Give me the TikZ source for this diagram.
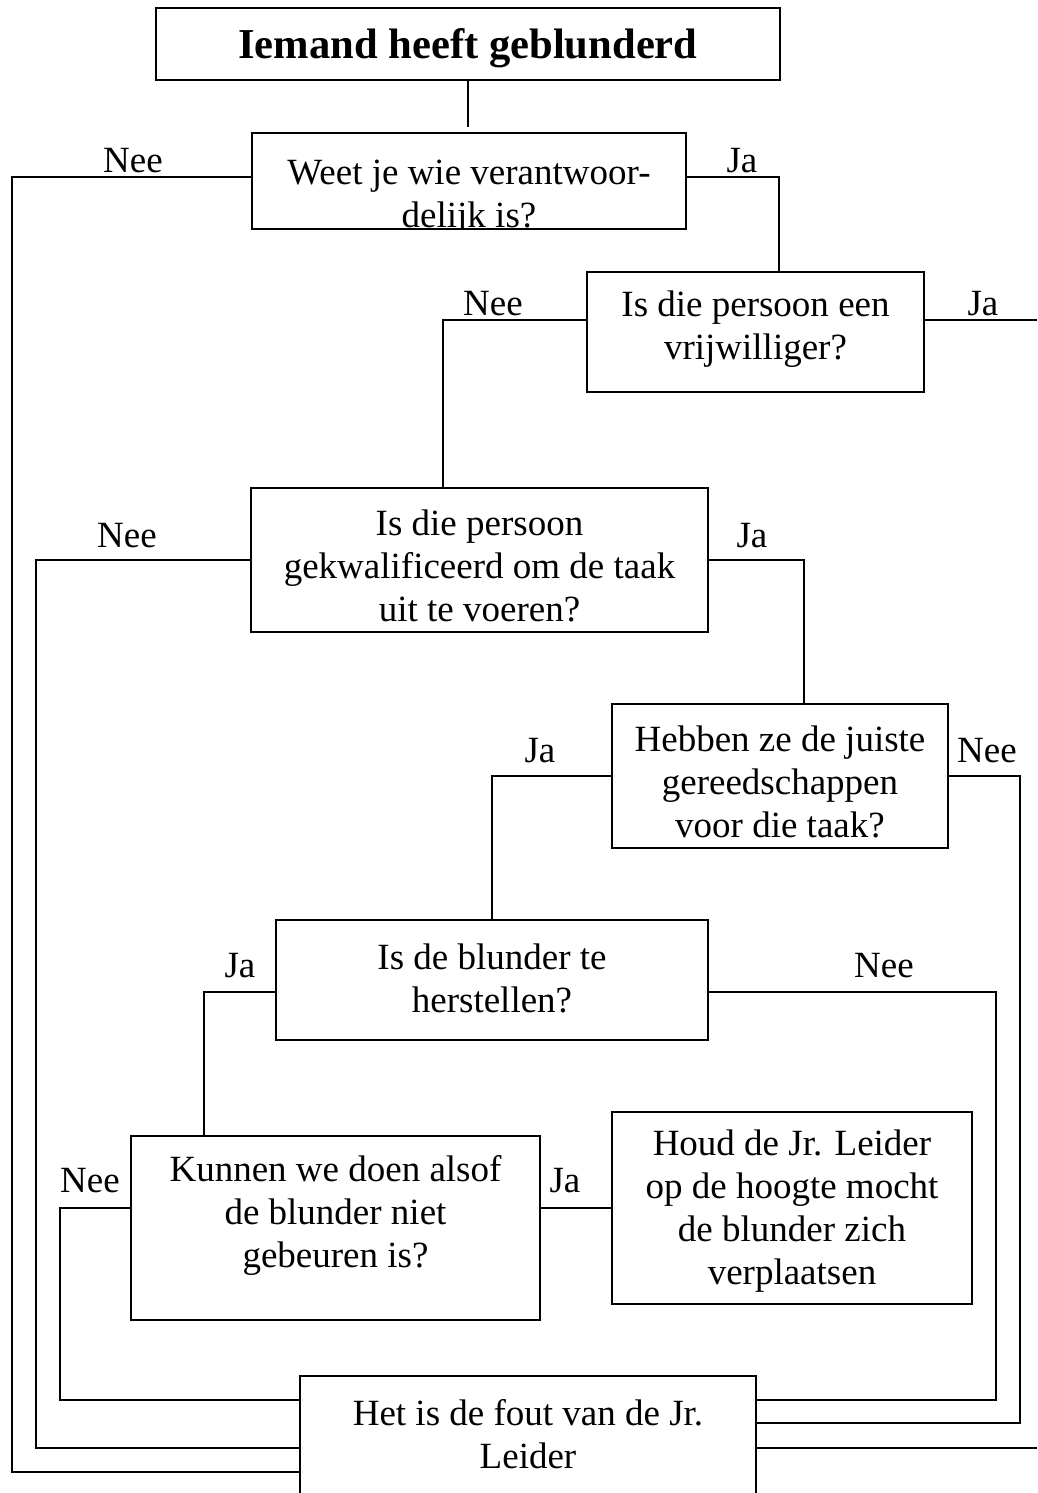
\documentclass[tikz,border=0pt]{standalone}
\usepackage{fontspec}
\setmainfont{Liberation Serif}
\begin{document}
\begin{tikzpicture}[x=1pt,y=-1pt,
  box/.style={draw,line width=1.8pt,rectangle,inner sep=0pt},
  txt/.style={align=center,inner sep=0pt,font=\fontsize{37}{43}\selectfont},
  ttl/.style={inner sep=0pt,font=\fontsize{42.6}{49}\selectfont\bfseries},
  lbl/.style={anchor=base,inner sep=0pt,font=\fontsize{37}{43}\selectfont},
  wire/.style={line width=1.8pt}]
\useasboundingbox (0,0) rectangle (1037,1493);

% decision boxes
\node[box,minimum width=624pt,minimum height=72pt]  (title)  at (468,44) {};
\node[box,minimum width=434pt,minimum height=96pt]  (weet)   at (469,181) {};
\node[box,minimum width=337pt,minimum height=120pt] (vrij)   at (755.5,332) {};
\node[box,minimum width=457pt,minimum height=144pt] (gekwal) at (479.5,560) {};
\node[box,minimum width=336pt,minimum height=144pt] (gereed) at (780,776) {};
\node[box,minimum width=432pt,minimum height=120pt] (herst)  at (492,980) {};
\node[box,minimum width=409pt,minimum height=184pt] (kunnen) at (335.5,1228) {};
\node[box,minimum width=360pt,minimum height=192pt] (houd)   at (792,1208) {};
\node[box,minimum width=456pt,minimum height=150pt] (fout)   at (528,1451) {};

% box texts (the second line of the first question runs into the frame)
\node[ttl] (titleT) at (468,48) {Iemand heeft geblunderd};
\begin{scope}
  \clip (weet.north west) rectangle (weet.south east);
  \node[txt,anchor=base] (weetT) at (469,227) {Weet je wie verantwoor-\\delijk is?};
\end{scope}
\node[txt] (vrijT)   at (755.5,329) {Is die persoon een\\vrijwilliger?};
\node[txt] (gekwalT) at (479.5,566) {Is die persoon\\gekwalificeerd om de taak\\uit te voeren?};
\node[txt] (gereedT) at (780,782) {Hebben ze de juiste\\gereedschappen\\voor die taak?};
\node[txt] (herstT)  at (492,978) {Is de blunder te\\herstellen?};
\node[txt] (kunnenT) at (335.5,1215) {Kunnen we doen alsof\\de blunder niet\\gebeuren is?};
\node[txt] (houdT)   at (792,1211) {Houd de Jr. Leider\\op de hoogte mocht\\de blunder zich\\verplaatsen};
\node[txt] (foutT)   at (528,1434) {Het is de fout van de Jr.\\Leider};

% loose ends at the right margin
\coordinate (vrijOut) at (1037,320);
\coordinate (foutOut) at (1037,1448);

% connectors
\draw[wire,shorten >=5pt] (title) -- (title.south |- weet.north);
\draw[wire] (weet.west |- 0,177) -- (12,177) -- (12,1472) -- (fout.west |- 0,1472);
\draw[wire] (weet.east |- 0,177) -| (vrij.north -| 779,0);
\draw[wire] (vrij.west |- 0,320) -| (gekwal.north -| 443,0);
\draw[wire] (vrij.east |- 0,320) -- (vrijOut);
\draw[wire] (gekwal.west) -- (36,560) -- (36,1448) -- (fout.west |- 0,1448);
\draw[wire] (gekwal.east) -| (gereed.north -| 804,0);
\draw[wire] (gereed.west) -| (herst.north -| 492,0);
\draw[wire] (gereed.east) -- (1020,776) -- (1020,1423) -- (fout.east |- 0,1423);
\draw[wire] (herst.west |- 0,992) -| (kunnen.north -| 204,0);
\draw[wire] (herst.east |- 0,992) -- (996,992) -- (996,1400) -- (fout.east |- 0,1400);
\draw[wire] (kunnen.west |- 0,1208) -- (60,1208) -- (60,1400) -- (fout.west |- 0,1400);
\draw[wire] (kunnen.east |- 0,1208) -- (houd.west);
\draw[wire] (fout.east |- 0,1448) -- (foutOut);

% branch labels
\node[lbl] (l1)  at (133,172)  {Nee};
\node[lbl] (l2)  at (742,172)  {Ja};
\node[lbl] (l3)  at (493,315)  {Nee};
\node[lbl] (l4)  at (983,315)  {Ja};
\node[lbl] (l5)  at (127,547)  {Nee};
\node[lbl] (l6)  at (752,547)  {Ja};
\node[lbl] (l7)  at (540,762)  {Ja};
\node[lbl] (l8)  at (987,762)  {Nee};
\node[lbl] (l9)  at (240,977)  {Ja};
\node[lbl] (l10) at (884,977)  {Nee};
\node[lbl] (l11) at (90,1192)  {Nee};
\node[lbl] (l12) at (565,1192) {Ja};
\end{tikzpicture}
\end{document}
